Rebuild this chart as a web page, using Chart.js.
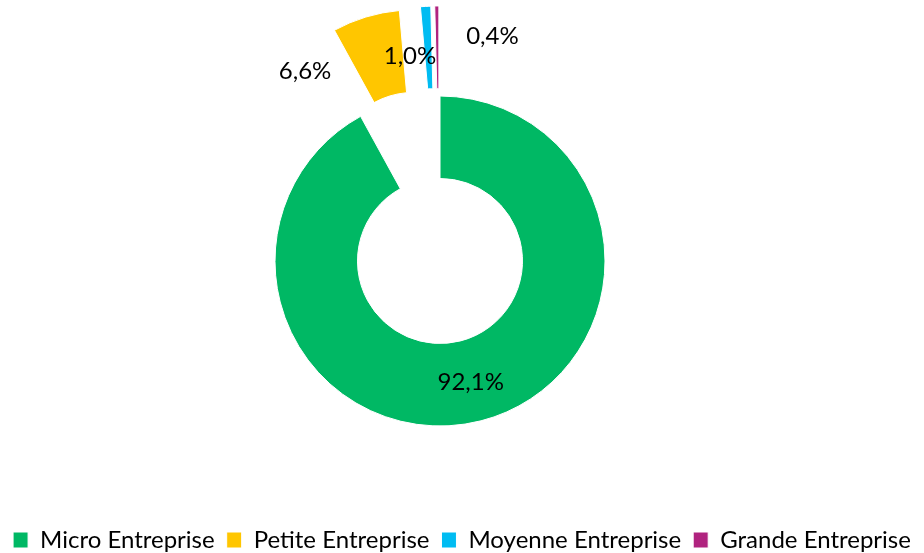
<!DOCTYPE html>
<html lang="fr">
    <head>
        <meta charset="utf-8" />
        <title>Répartition des entreprises</title>
        <script src="https://cdn.jsdelivr.net/npm/chart.js@4/dist/chart.umd.min.js"></script>
        <style>
            html,
            body {
                margin: 0;
                padding: 0;
                background: #ffffff;
            }
            .chart-box {
                width: 924px;
                height: 553px;
            }
        </style>
    </head>
    <body>
        <div class="chart-box">
            <canvas id="kt_chart_taille"></canvas>
        </div>

        <script>
            // data
            const categories = [
                "Micro Entreprise",
                "Petite Entreprise",
                "Moyenne Entreprise",
                "Grande Entreprise",
            ];
            const shares = [92.1, 6.6, 1.0, 0.4];

            // styling
            const sliceColors = ["#00B864", "#FFC600", "#00BCF2", "#B0237F"];
            // how far each slice is pulled out of the ring (px)
            const slicePull = [0, 90, 90, 90];
            // label nudges, from the middle of the (unpulled) ring
            const labelShift = [
                [0, 1],
                [-99, -71],
                [-23, -81],
                [54, -101],
            ];
            const fontName = "Lato, 'Open Sans', sans-serif";

            // moves the pie a bit left of the canvas centre, like the original
            const centreShift = {
                id: "centreShift",
                afterLayout(chart) {
                    chart.chartArea.left -= 44;
                    chart.chartArea.width += 44;
                },
            };

            // chart.js "offset" shrinks thin slices, so pull them out by hand
            const pulledSlices = {
                id: "pulledSlices",
                beforeDatasetDraw(chart, args) {
                    const ctx = chart.ctx;
                    args.meta.data.forEach((arc, i) => {
                        const mid = (arc.startAngle + arc.endAngle) / 2;
                        ctx.save();
                        ctx.translate(
                            Math.cos(mid) * slicePull[i],
                            Math.sin(mid) * slicePull[i]
                        );
                        arc.draw(ctx);
                        ctx.restore();
                    });
                    return false;
                },
            };

            const sliceLabels = {
                id: "sliceLabels",
                afterDraw(chart) {
                    const ctx = chart.ctx;
                    const meta = chart.getDatasetMeta(0);
                    ctx.save();
                    ctx.font = "24px " + fontName;
                    ctx.fillStyle = "#000000";
                    ctx.textAlign = "center";
                    ctx.textBaseline = "middle";
                    meta.data.forEach((arc, i) => {
                        const mid = (arc.startAngle + arc.endAngle) / 2;
                        const r = (arc.innerRadius + arc.outerRadius) / 2;
                        const x = arc.x + Math.cos(mid) * r + labelShift[i][0];
                        const y = arc.y + Math.sin(mid) * r + labelShift[i][1];
                        const txt = shares[i].toFixed(1).replace(".", ",") + "%";
                        ctx.fillText(txt, x, y);
                    });
                    ctx.restore();
                },
            };

            new Chart(document.getElementById("kt_chart_taille"), {
                type: "doughnut",
                data: {
                    labels: categories,
                    datasets: [
                        {
                            data: shares,
                            backgroundColor: sliceColors,
                            borderColor: "#ffffff",
                            borderWidth: 1,
                            radius: 165,
                            cutout: "50%",
                        },
                    ],
                },
                options: {
                    responsive: true,
                    maintainAspectRatio: false,
                    animation: false,
                    layout: {
                        padding: { top: 6, left: 0, right: 0, bottom: -9 },
                    },
                    plugins: {
                        tooltip: { enabled: false },
                        legend: {
                            position: "bottom",
                            labels: {
                                boxWidth: 15,
                                boxHeight: 16,
                                padding: 12,
                                color: "#000000",
                                font: { family: fontName, size: 24 },
                            },
                        },
                    },
                },
                plugins: [centreShift, pulledSlices, sliceLabels],
            });
        </script>
    </body>
</html>
